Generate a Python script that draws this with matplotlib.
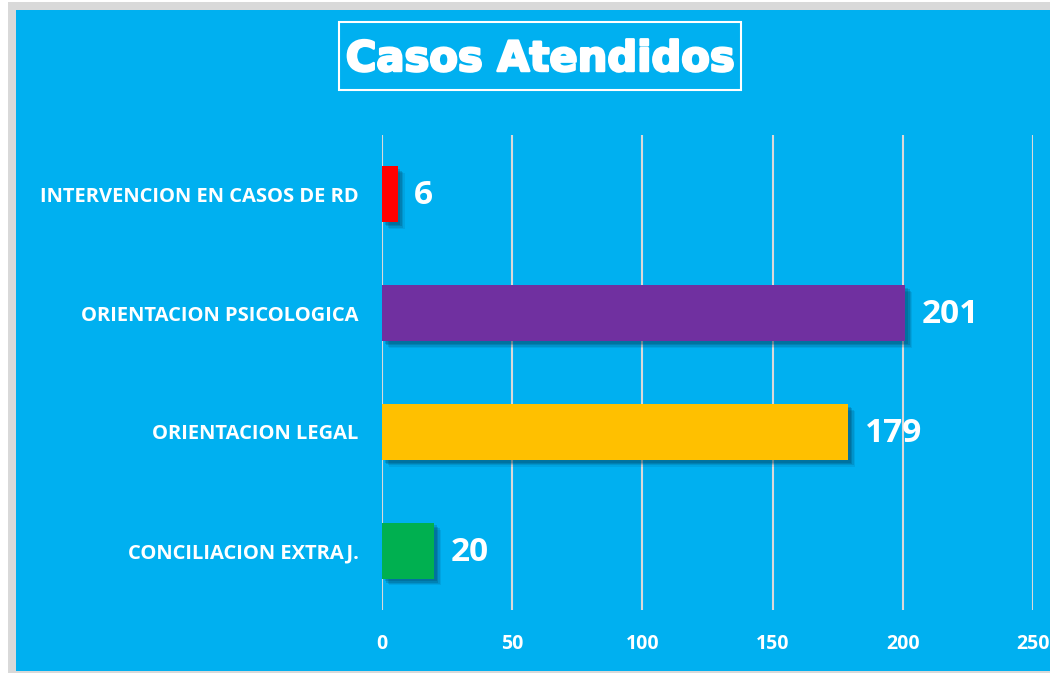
import matplotlib
matplotlib.use("Agg")
import matplotlib.pyplot as plt
from matplotlib.patches import Rectangle
import matplotlib.patheffects as pe

categories = ["CONCILIACION EXTRAJ.", "ORIENTACION LEGAL", "ORIENTACION PSICOLOGICA", "INTERVENCION EN CASOS DE RD"]
values = [20, 179, 201, 6]
colors = ["#00B050", "#FFC000", "#7030A0", "#FF0000"]
xticks = [0, 50, 100, 150, 200, 250]
title = "Casos Atendidos"

W, H = 1050, 673
fig = plt.figure(figsize=(W / 100, H / 100), dpi=100)
fig.patch.set_facecolor("white")

def px_rect(x0, y0, x1, y1, **kw):
    # pixel coords with y from top
    r = Rectangle((x0 / W, 1 - y1 / H), (x1 - x0) / W, (y1 - y0) / H,
                  transform=fig.transFigure, **kw)
    fig.patches.append(r)
    return r

px_rect(8, 2, W, H, facecolor="#D9D9D9", edgecolor="none", zorder=-3)
px_rect(16, 10, W, 671, facecolor="#00B0F0", edgecolor="none", zorder=-2)
px_rect(338.5, 21.5, 740.5, 89.5, facecolor="none", edgecolor="white", linewidth=1.5, zorder=-1)
fig.text(540 / W, 1 - 59 / H, title, ha="center", va="center", color="white",
         fontsize=30, fontweight="heavy", family="DejaVu Sans", zorder=3,
         path_effects=[pe.Stroke(linewidth=1.8, foreground="white"), pe.Normal()])

ax = fig.add_axes([382 / W, 63 / H, 651 / W, 475 / H])
ax.set_zorder(5)
ax.set_facecolor("none")
ax.set_xlim(0, 250)
ax.set_ylim(-0.5, 3.5)
ax.set_xticks(xticks)
ax.xaxis.grid(True, color="#D9D9D9", linewidth=1.5)
ax.set_axisbelow(True)
for s in ax.spines.values():
    s.set_visible(False)

ypos = list(range(len(categories)))
shadow = [pe.SimplePatchShadow(offset=(o, -o), shadow_rgbFace="#003a55", alpha=a)
          for o, a in [(5, 0.10), (4, 0.15), (3, 0.2), (2, 0.2)]] + [pe.Normal()]
bars = ax.barh(ypos, values, height=0.47, color=colors, zorder=3)
for b in bars:
    b.set_path_effects(shadow)

for y, v in zip(ypos, values):
    ax.annotate(str(v), (v, y), xytext=(12, -1), textcoords="offset points",
                ha="left", va="center", color="white", fontsize=24,
                fontweight="bold", family="Open Sans", zorder=4)

ax.set_yticks(ypos)
ax.set_yticklabels(categories, color="white", fontsize=14.5, fontweight="bold", family="Open Sans")
ax.set_xticklabels([str(t) for t in xticks], color="white", fontsize=14, fontweight="bold", family="Open Sans")
ax.tick_params(axis="y", length=0, pad=17)
ax.tick_params(axis="x", length=0, pad=17)

fig.savefig("out.png", dpi=100, facecolor=fig.get_facecolor())
